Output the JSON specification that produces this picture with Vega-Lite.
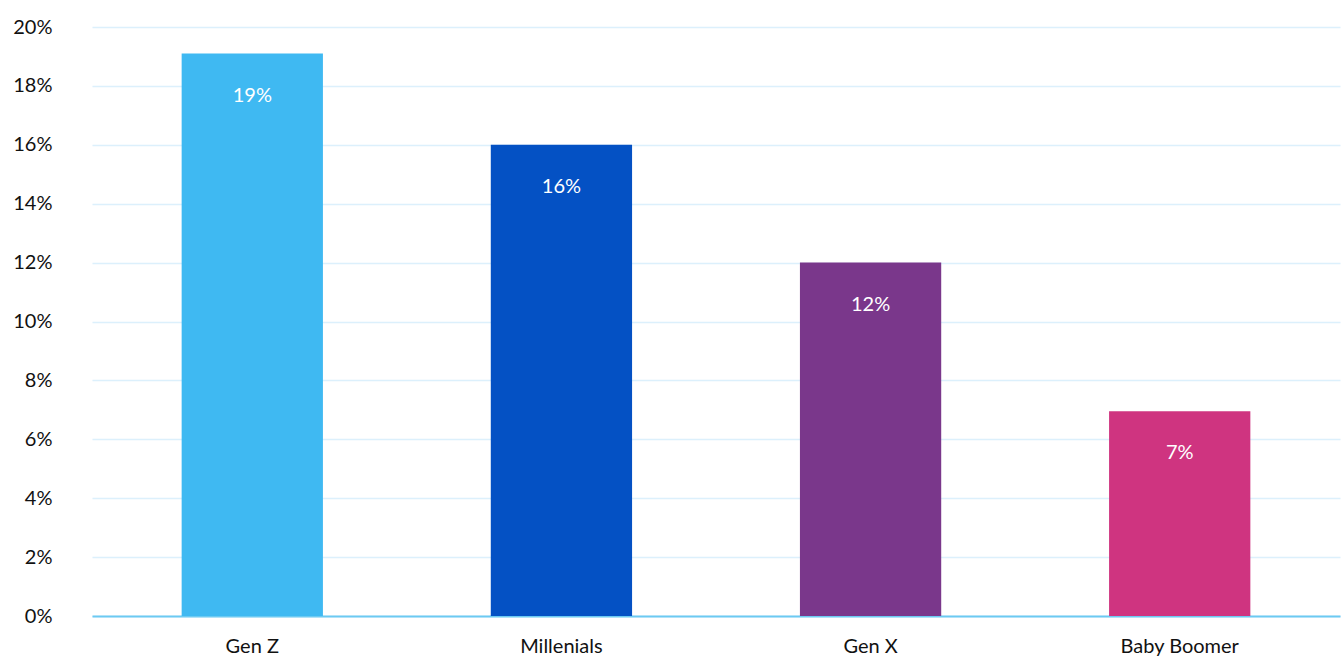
{
  "$schema": "https://vega.github.io/schema/vega-lite/v6.json",
  "width": 1248,
  "height": 589,
  "autosize": {"type": "none"},
  "padding": {"left": 92, "top": 27, "right": 4, "bottom": 41},
  "background": "white",
  "config": {
    "view": {"stroke": null},
    "font": "Lato"
  },
  "data": {
    "values": [
      {"generation": "Gen Z", "share": 0.191, "color": "#3fb9f2"},
      {"generation": "Millenials", "share": 0.16, "color": "#0451c4"},
      {"generation": "Gen X", "share": 0.12, "color": "#7a378b"},
      {"generation": "Baby Boomer", "share": 0.0695, "color": "#cf3480"}
    ]
  },
  "encoding": {
    "x": {
      "field": "generation",
      "type": "nominal",
      "sort": null,
      "scale": {"paddingInner": 0.543, "paddingOuter": 0.29},
      "axis": {
        "title": null,
        "labelAngle": 0,
        "labelFontSize": 20,
        "labelColor": "#111111",
        "labelFont": "Lato",
        "ticks": false,
        "labelPadding": 20,
        "domainColor": "#6ccaf2",
        "domainWidth": 2
      }
    },
    "y": {
      "field": "share",
      "type": "quantitative",
      "scale": {"domain": [0, 0.2]},
      "axis": {
        "title": null,
        "format": ".0%",
        "values": [0, 0.02, 0.04, 0.06, 0.08, 0.1, 0.12, 0.14, 0.16, 0.18, 0.2],
        "labelOverlap": false,
        "ticks": false,
        "domain": false,
        "gridColor": "#dcf0fc",
        "gridWidth": 1.5,
        "labelFontSize": 20,
        "labelColor": "#111111",
        "labelFont": "Lato",
        "labelPadding": 40
      }
    }
  },
  "layer": [
    {
      "mark": {"type": "bar"},
      "encoding": {
        "color": {"field": "color", "type": "nominal", "scale": null}
      }
    },
    {
      "mark": {"type": "text", "color": "white", "fontSize": 20, "baseline": "middle", "dy": 42, "font": "Lato"},
      "encoding": {
        "text": {"field": "share", "type": "quantitative", "format": ".0%"}
      }
    }
  ]
}
